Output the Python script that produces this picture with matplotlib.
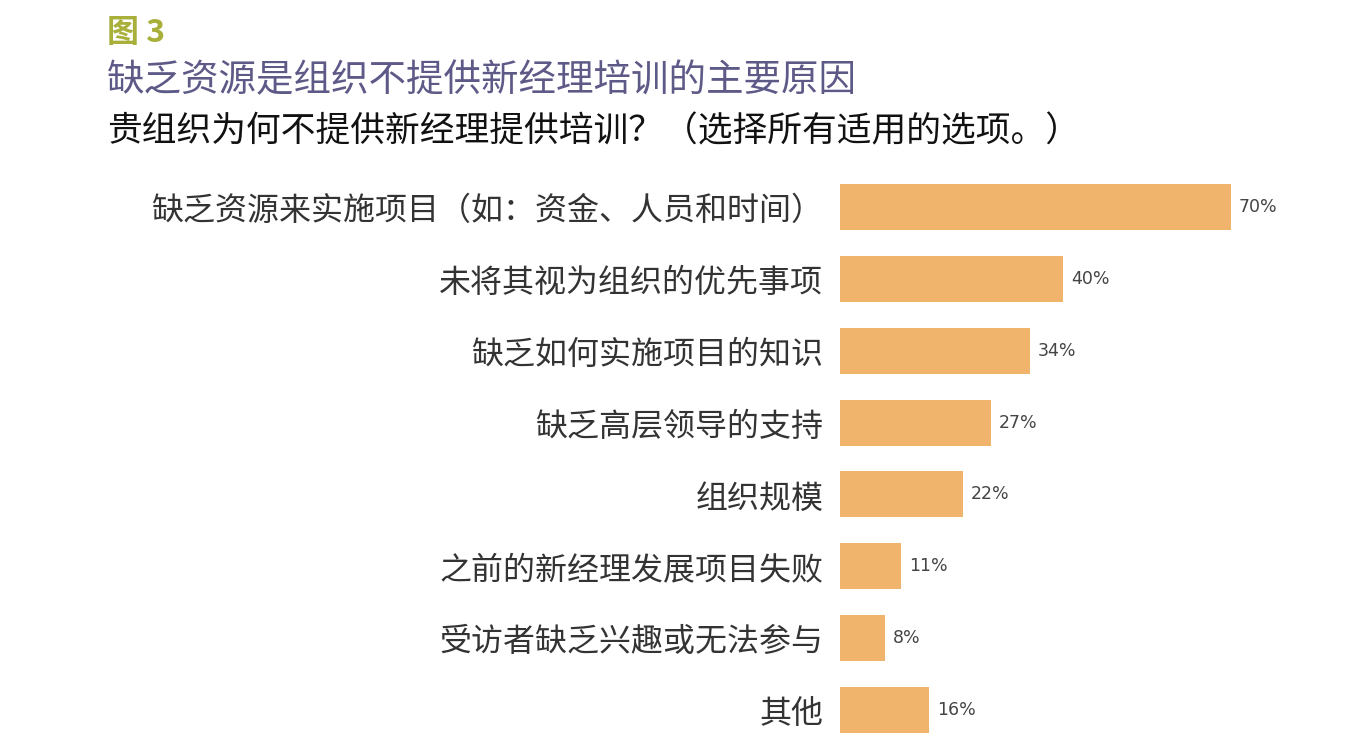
import matplotlib
matplotlib.use("Agg")
import matplotlib.pyplot as plt

plt.rcParams['font.family'] = ['Noto Sans CJK SC', 'DejaVu Sans']

categories = [
    "缺乏资源来实施项目（如：资金、人员和时间）",
    "未将其视为组织的优先事项",
    "缺乏如何实施项目的知识",
    "缺乏高层领导的支持",
    "组织规模",
    "之前的新经理发展项目失败",
    "受访者缺乏兴趣或无法参与",
    "其他",
]
values = [70, 40, 34, 27, 22, 11, 8, 16]
value_labels = ["70%", "40%", "34%", "27%", "22%", "11%", "8%", "16%"]

W, H = 1356, 756
fig = plt.figure(figsize=(W / 100, H / 100), dpi=100)
fig.patch.set_facecolor("white")

# axes: x 840..1231 for 0..70 ; y 171..746 px
ax = fig.add_axes([840 / W, (H - 746) / H, 391 / W, 575 / H])
y = list(range(len(categories)))
ax.barh(y, values, height=0.64, color="#F1B46C", edgecolor="none")
ax.set_xlim(0, 70)
ax.set_ylim(len(categories) - 0.5, -0.5)
ax.axis("off")

for yi, v, lab in zip(y, values, value_labels):
    ax.text(v + 1.4, yi, lab, va="center", ha="left", fontsize=12.5,
            color="#444444", family=['DejaVu Sans'])

for yi, c in zip(y, categories):
    ax.text(-3.0, yi + 0.06, c, va="center", ha="right", fontsize=23,
            color="#333333", clip_on=False)

fig.text(107 / W, 1 - 33 / H, "图 3", fontsize=23, fontweight="bold",
         color="#A8B03A", va="center", ha="left")
fig.text(107 / W, 1 - 81 / H, "缺乏资源是组织不提供新经理培训的主要原因",
         fontsize=27, color="#5E5A88", va="center", ha="left")
fig.text(107 / W, 1 - 132 / H, "贵组织为何不提供新经理提供培训？（选择所有适用的选项。）",
         fontsize=25, color="#111111", va="center", ha="left")

fig.savefig("out.png", dpi=100, facecolor="white")
